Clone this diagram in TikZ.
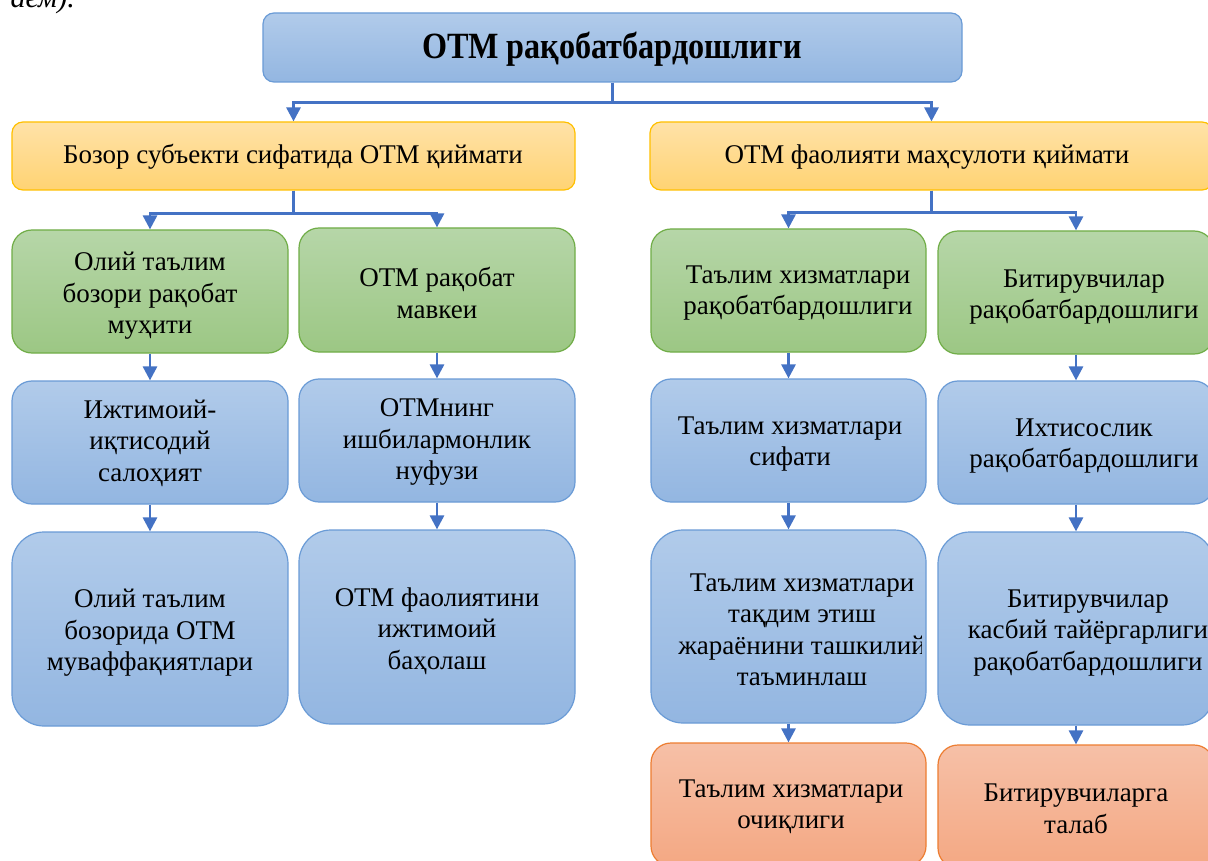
\documentclass[tikz,border=0pt]{standalone}
\usepackage{fontspec}
\setmainfont{Liberation Serif}
\usetikzlibrary{arrows.meta,calc}
\definecolor{arrblue}{HTML}{4472C4}
\definecolor{bTop}{HTML}{B1CBEA}\definecolor{bBot}{HTML}{93B6E1}\definecolor{bLine}{HTML}{6A9BD6}
\definecolor{yTop}{HTML}{FFE2A8}\definecolor{yBot}{HTML}{FFD373}\definecolor{yLine}{HTML}{FFC000}
\definecolor{gTop}{HTML}{B6D6A8}\definecolor{gBot}{HTML}{9CC784}\definecolor{gLine}{HTML}{70AD47}
\definecolor{oTop}{HTML}{F6C0A7}\definecolor{oBot}{HTML}{F4A883}\definecolor{oLine}{HTML}{ED7D31}
\tikzset{
  shp/.style={draw, line width=1.2pt, inner sep=0pt},
  bluebox/.style={shp, draw=bLine, top color=bTop, bottom color=bBot},
  yellowbox/.style={shp, draw=yLine, top color=yTop, bottom color=yBot},
  greenbox/.style={shp, draw=gLine, top color=gTop, bottom color=gBot},
  orangebox/.style={shp, draw=oLine, top color=oTop, bottom color=oBot},
  txt/.style={align=center, inner sep=0pt, font=\fontsize{27}{31.5}\selectfont},
  ttl/.style={align=center, inner sep=0pt, font=\fontsize{37}{42}\selectfont\bfseries},
  arr/.style={draw=arrblue, line width=2.8pt, -{Triangle[length=14pt,width=14pt]}},
}
\newcommand\bx[7]{\node[#2, minimum width=#5pt, minimum height=#6pt, rounded corners=#7pt] (#1) at (#3,#4) {};}
\begin{document}
\begin{tikzpicture}[x=1pt,y=-1pt]
\useasboundingbox (0,0) rectangle (1208,861);
\clip (0,0) rectangle (1208,861);
\fill[white] (0,0) rectangle (1208,861);
% fragment of text above
\node[anchor=base east, inner sep=0pt, font=\fontsize{30}{32}\selectfont\itshape] (frag) at (75,8) {аем).};
% boxes
\bx{top}{bluebox}{612.5}{47.5}{699}{69}{11}
\bx{yl}{yellowbox}{293.5}{156}{563}{68}{11}
\bx{yr}{yellowbox}{931.5}{156}{563}{68}{11}
\bx{ga}{greenbox}{150}{291.5}{276}{123}{20}
\bx{gb}{greenbox}{437}{290}{276}{124}{20}
\bx{bl1}{bluebox}{150}{442.5}{276}{123}{20}
\bx{bl2}{bluebox}{437}{440.5}{276}{123}{20}
\bx{bl3}{bluebox}{150}{629}{276}{194}{32}
\bx{bl4}{bluebox}{437}{627}{276}{194}{32}
\bx{gc}{greenbox}{788.5}{290.5}{275}{123}{20}
\bx{gd}{greenbox}{1076}{292.5}{276}{123}{20}
\bx{c1}{bluebox}{788.5}{440.5}{275}{123}{20}
\bx{d1}{bluebox}{1076}{442.5}{276}{123}{20}
\bx{c2}{bluebox}{788.5}{626.5}{275}{193}{32}
\bx{d2}{bluebox}{1076}{628.5}{276}{193}{32}
\bx{c3}{orangebox}{788.5}{804.5}{275}{123}{20}
\bx{d3}{orangebox}{1076}{806.5}{276}{123}{20}
% texts
\node[ttl] (topt) at (612,49) {\scalebox{0.87}[1]{ОТМ рақобатбардошлиги}};
\node[txt] (ylt) at (293,157) {Бозор субъекти сифатида ОТМ қиймати};
\node[txt] (yrt) at (927,157) {ОТМ фаолияти маҳсулоти қиймати};
\node[txt] (gat) at (150,296) {Олий таълим\\бозори рақобат\\муҳити};
\node[txt] (gbt) at (437,293) {ОТМ рақобат\\мавкеи};
\node[txt] (bl1t) at (150,443) {Ижтимоий-\\иқтисодий\\салоҳият};
\node[txt] (bl2t) at (437,442) {ОТМнинг\\ишбилармонлик\\нуфузи};
\node[txt] (bl3t) at (150,633) {Олий таълим\\бозорида ОТМ\\муваффақиятлари};
\node[txt] (bl4t) at (437,631) {ОТМ фаолиятини\\ижтимоий\\баҳолаш};
\node[txt] (gct) at (798,293) {Таълим хизматлари\\рақобатбардошлиги};
\node[txt] (gdt) at (1084,297) {Битирувчилар\\рақобатбардошлиги};
\node[txt] (c1t) at (790,444) {Таълим хизматлари\\сифати};
\node[txt] (d1t) at (1084,446) {Ихтисослик\\рақобатбардошлиги};
\begin{scope}
\clip (651,530) rectangle (921,723);
\node[txt] (c2t) at (802,630) {Таълим хизматлари\\тақдим этиш\\жараёнини ташкилий\\таъминлаш};
\end{scope}
\node[txt] (d2t) at (1088,633) {Битирувчилар\\касбий тайёргарлиги\\рақобатбардошлиги};
\node[txt] (c3t) at (791,807) {Таълим хизматлари\\очиқлиги};
\node[txt] (d3t) at (1076,809) {Битирувчиларга\\талаб};
% connectors
\draw[arr] (top.south) -- ++(0,20) -| (yl.north);
\draw[arr] (top.south) -- ++(0,20) -| (yr.north);
\draw[arr] (yl.south) -- ++(0,23) -| (ga.north);
\draw[arr] (yl.south) -- ++(0,23) -| (gb.north);
\draw[arr] (yr.south) -- ++(0,22) -| (gc.north);
\draw[arr] (yr.south) -- ++(0,22) -| (gd.north);
\draw[arr] (ga.south) -- (bl1.north);
\draw[arr] (gb.south) -- (bl2.north);
\draw[arr] (bl1.south) -- (bl3.north);
\draw[arr] (bl2.south) -- (bl4.north);
\draw[arr] (gc.south) -- (c1.north);
\draw[arr] (gd.south) -- (d1.north);
\draw[arr] (c1.south) -- (c2.north);
\draw[arr] (d1.south) -- (d2.north);
\draw[arr] (c2.south) -- (c3.north);
\draw[arr] (d2.south) -- (d3.north);
\end{tikzpicture}
\end{document}
